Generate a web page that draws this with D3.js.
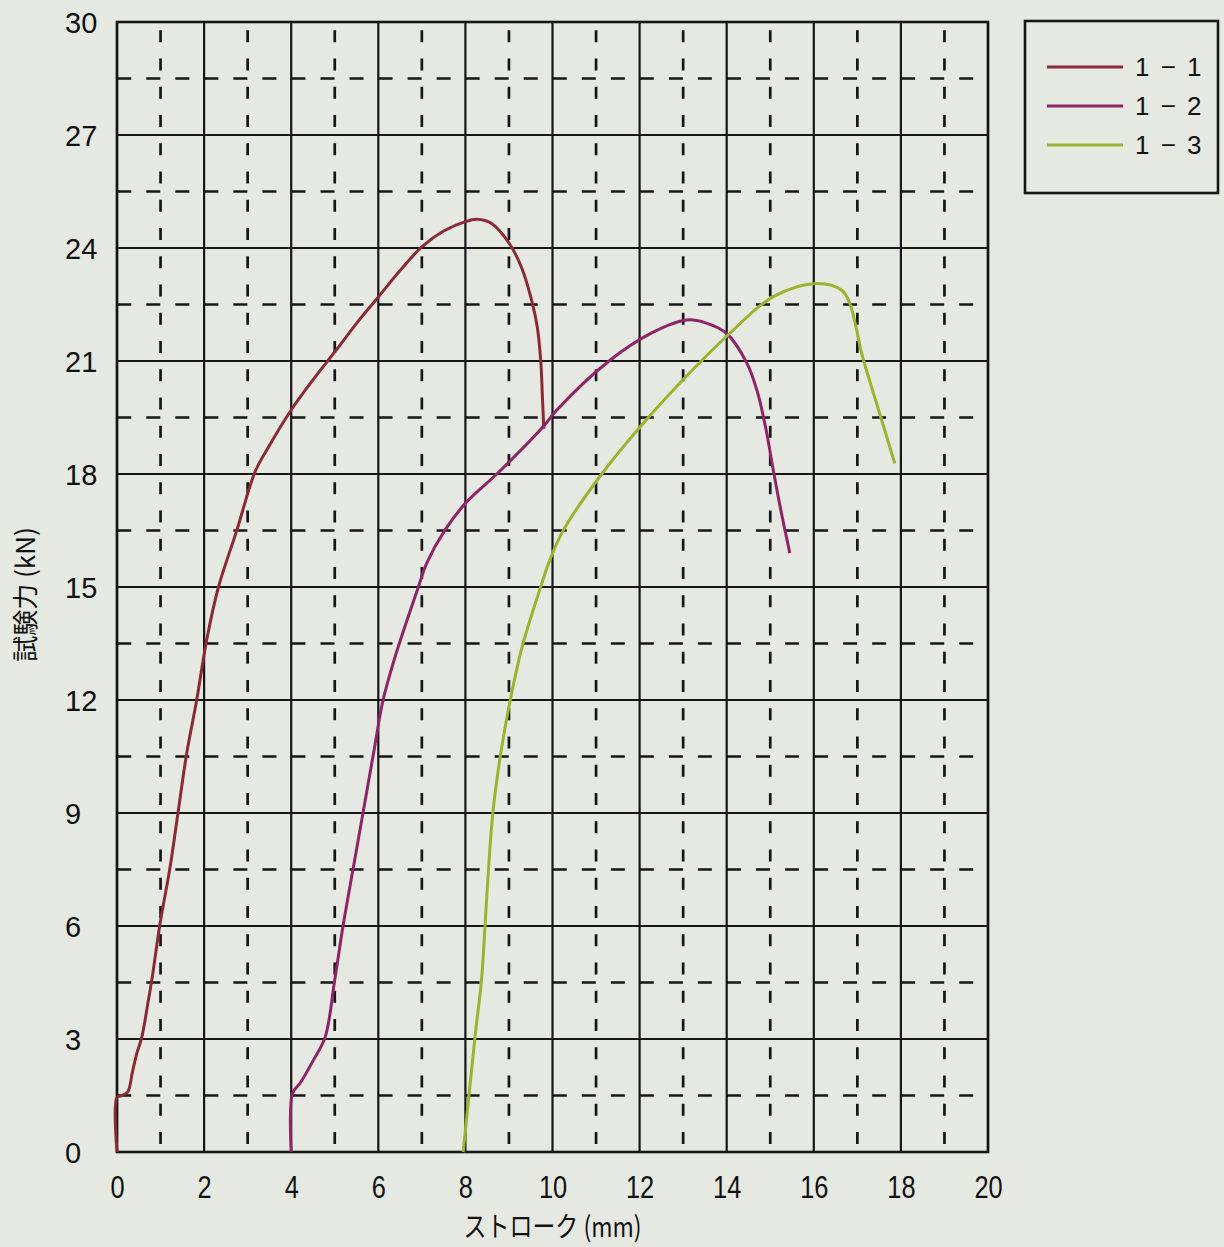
<!DOCTYPE html>
<html>
<head>
<meta charset="utf-8">
<script src="https://cdn.jsdelivr.net/npm/d3@7"></script>
<style>
  body { margin: 0; background: #e6e9e2; }
  svg { display: block; }
  .tick line { display: none; }
  .domain { display: none; }
</style>
</head>
<body>
<div id="chart"></div>
<script>
// Data
//================================
var seriesNames = ["1 − 1", "1 − 2", "1 − 3"];
var seriesColors = ["#8a2a37", "#8f2466", "#9bb32f"];

// 1-1 : stroke (mm) / force (kN)
var stroke11 = [0, 0, 0.12, 0.25, 0.35, 0.45, 0.57, 0.72, 0.8, 0.99, 1.22, 1.41, 1.6, 1.83, 2.06, 2.33, 2.75, 3.17, 3.44, 4.0, 4.5, 5.04, 5.5, 6.0, 6.5, 7.0, 7.5, 8.0, 8.26, 8.6, 9.02, 9.3, 9.5, 9.65, 9.73, 9.77, 9.8];
var force11  = [0, 1.45, 1.5, 1.6, 2.1, 2.6, 3.05, 4.03, 4.57, 6.07, 7.57, 9.08, 10.58, 12.0, 13.6, 15.0, 16.5, 18.06, 18.64, 19.7, 20.5, 21.3, 22.0, 22.7, 23.4, 24.03, 24.45, 24.7, 24.76, 24.65, 24.1, 23.45, 22.7, 21.9, 21.0, 20.0, 19.2];

// 1-2
var stroke12 = [4.0, 4.03, 4.2, 4.51, 4.78, 5.0, 5.2, 5.43, 5.66, 5.89, 6.11, 6.4, 6.92, 7.11, 7.53, 8.03, 8.72, 9.79, 10.1, 11.32, 12.3, 13.08, 13.5, 14.0, 14.46, 14.7, 14.9, 15.07, 15.25, 15.45];
var force12  = [0, 1.56, 1.82, 2.44, 3.05, 4.57, 6.07, 7.57, 9.08, 10.58, 12.0, 13.2, 15.0, 15.63, 16.51, 17.26, 18.0, 19.26, 19.7, 21.02, 21.76, 22.09, 22.02, 21.73, 20.95, 20.2, 19.2, 18.1, 17.0, 15.9];

// 1-3
var stroke13 = [7.95, 8.22, 8.37, 8.45, 8.53, 8.63, 8.8, 9.03, 9.3, 9.7, 9.94, 10.25, 11.13, 12.05, 13.08, 14.03, 15.07, 16.07, 16.64, 16.82, 16.96, 17.1, 17.44, 17.86];
var force13  = [0, 3.05, 4.57, 6.0, 7.5, 9.0, 10.5, 12.0, 13.4, 14.9, 15.72, 16.51, 18.0, 19.3, 20.6, 21.69, 22.71, 23.06, 22.88, 22.55, 21.95, 21.2, 19.88, 18.28];

var xTicks = [0, 2, 4, 6, 8, 10, 12, 14, 16, 18, 20];
var yTicks = [0, 3, 6, 9, 12, 15, 18, 21, 24, 27, 30];

// Set up our chart area
//================================
var svgWidth = 1224;
var svgHeight = 1247;

var margin = { top: 22, right: 236, bottom: 95, left: 117 };
var width = svgWidth - margin.left - margin.right;
var height = svgHeight - margin.top - margin.bottom;

var svg = d3.select("#chart")
  .append("svg")
  .attr("width", svgWidth)
  .attr("height", svgHeight);

var chartGroup = svg.append("g")
  .attr("transform", `translate(${margin.left}, ${margin.top})`);

var xScale = d3.scaleLinear().domain([0, 20]).range([0, width]);
var yScale = d3.scaleLinear().domain([0, 30]).range([height, 0]);

// Grid: solid every 2 mm / 3 kN, dashed in between
var gridGroup = chartGroup.append("g");

var xDashed = d3.range(1, 20, 2);
var yDashed = d3.range(1.5, 30, 3);

var hPeriod = xScale(2 / 3) - xScale(0);
var hDash = 14;
var hOffset = -(xScale(1 / 6) - xScale(0) - hDash / 2);

gridGroup.selectAll(".hdash")
  .data(yDashed)
  .enter()
  .append("line")
  .attr("x1", xScale(0))
  .attr("x2", xScale(20))
  .attr("y1", d => yScale(d))
  .attr("y2", d => yScale(d))
  .attr("stroke", "#161616")
  .attr("stroke-width", 2.7)
  .attr("stroke-dasharray", `${hDash},${hPeriod - hDash}`)
  .attr("stroke-dashoffset", hOffset);

var vPeriod = yScale(0) - yScale(0.75);
var vDash = 12;
var vOffset = -(yScale(30 - 0.375) - yScale(30) - vDash / 2);

gridGroup.selectAll(".vdash")
  .data(xDashed)
  .enter()
  .append("line")
  .attr("x1", d => xScale(d))
  .attr("x2", d => xScale(d))
  .attr("y1", yScale(30))
  .attr("y2", yScale(0))
  .attr("stroke", "#161616")
  .attr("stroke-width", 2.7)
  .attr("stroke-dasharray", `${vDash},${vPeriod - vDash}`)
  .attr("stroke-dashoffset", vOffset);

gridGroup.selectAll(".vsolid")
  .data(xTicks)
  .enter()
  .append("line")
  .attr("x1", d => xScale(d))
  .attr("x2", d => xScale(d))
  .attr("y1", yScale(30))
  .attr("y2", yScale(0))
  .attr("stroke", "#161616")
  .attr("stroke-width", 2.2);

gridGroup.selectAll(".hsolid")
  .data(yTicks)
  .enter()
  .append("line")
  .attr("x1", xScale(0))
  .attr("x2", xScale(20))
  .attr("y1", d => yScale(d))
  .attr("y2", d => yScale(d))
  .attr("stroke", "#161616")
  .attr("stroke-width", 2.2);

chartGroup.append("rect")
  .attr("x", 0)
  .attr("y", 0)
  .attr("width", width)
  .attr("height", height)
  .attr("fill", "none")
  .attr("stroke", "#161616")
  .attr("stroke-width", 2.6);

// Curves
var allSeries = [
  d3.zip(stroke11, force11),
  d3.zip(stroke12, force12),
  d3.zip(stroke13, force13)
];

var lineGen = d3.line()
  .x(d => xScale(d[0]))
  .y(d => yScale(d[1]))
  .curve(d3.curveCatmullRom.alpha(0.5));

chartGroup.selectAll(".curve")
  .data(allSeries)
  .enter()
  .append("path")
  .attr("d", lineGen)
  .attr("fill", "none")
  .attr("stroke", (d, i) => seriesColors[i])
  .attr("stroke-width", 3)
  .attr("stroke-linejoin", "round");

// Axes
var bottomAxis = d3.axisBottom(xScale).tickValues(xTicks).tickSize(0).tickPadding(24);
var leftAxis = d3.axisLeft(yScale).tickValues(yTicks).tickSize(0);

var xAxisGroup = chartGroup.append("g")
  .attr("transform", `translate(0, ${height})`)
  .call(bottomAxis);

xAxisGroup.selectAll("text")
  .attr("font-family", "'Liberation Sans', Arial, sans-serif")
  .attr("font-size", 31)
  .attr("fill", "#111")
  .attr("transform", "scale(0.82,1)");

var yAxisGroup = chartGroup.append("g")
  .call(leftAxis);

yAxisGroup.selectAll("text")
  .attr("font-family", "'Liberation Sans', Arial, sans-serif")
  .attr("font-size", 29)
  .attr("fill", "#111")
  .attr("text-anchor", "start")
  .attr("x", -52)
  .attr("dy", "0.35em");

// Axis titles
chartGroup.append("text")
  .attr("transform", `translate(${xScale(10)}, ${height + 85}) scale(0.82,1)`)
  .attr("text-anchor", "middle")
  .attr("font-family", "'Noto Sans CJK JP', sans-serif")
  .attr("font-size", 28)
  .attr("fill", "#111")
  .text("ストローク (mm)");

svg.append("text")
  .attr("transform", `translate(35, ${margin.top + yScale(14.8)}) rotate(-90)`)
  .attr("text-anchor", "middle")
  .attr("font-family", "'Noto Sans CJK JP', sans-serif")
  .attr("font-size", 26)
  .attr("fill", "#111")
  .text("試験力 (kN)");

// Legend
var legend = svg.append("g")
  .attr("transform", "translate(1025, 21)");

legend.append("rect")
  .attr("width", 193)
  .attr("height", 172)
  .attr("fill", "none")
  .attr("stroke", "#161616")
  .attr("stroke-width", 2.6);

var legendRows = legend.selectAll(".row")
  .data(seriesNames)
  .enter()
  .append("g")
  .attr("transform", (d, i) => `translate(0, ${46 + i * 39})`);

legendRows.append("line")
  .attr("x1", 22)
  .attr("x2", 98)
  .attr("stroke", (d, i) => seriesColors[i])
  .attr("stroke-width", 3);

legendRows.append("text")
  .attr("x", 110)
  .attr("dy", "0.36em")
  .attr("font-family", "'Liberation Sans', Arial, sans-serif")
  .attr("font-size", 26)
  .attr("letter-spacing", 2)
  .attr("fill", "#111")
  .text(d => d);
</script>
</body>
</html>
